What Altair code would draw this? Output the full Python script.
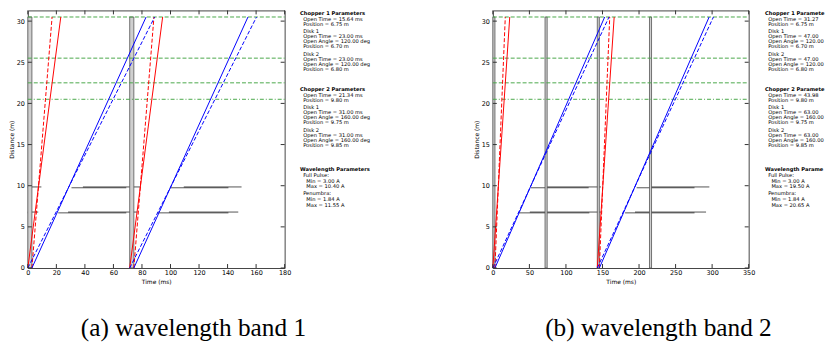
import altair as alt
import pandas as pd

# ---------------- data ----------------
x_ticks_a = [0, 20, 40, 60, 80, 100, 120, 140, 160, 180]
x_ticks_b = [0, 50, 100, 150, 200, 250, 300, 350]
y_ticks = [0, 5, 10, 15, 20, 25, 30]

# source pulses (ms)
pulse_start_a = [0.0, 71.4]
pulse_end_a = [2.86, 74.3]
pulse_start_b = [0.0, 71.4, 142.9, 214.3]
pulse_end_b = [2.86, 74.3, 145.7, 217.1]
pulse_top = 30.5

# monitor / detector distances (m)
green_dashed = [30.5, 25.5, 22.5]
green_dashdot = [20.5]

# neutron paths: (time at 0 m, time at line_top m)
line_top = 30.5
a_red_solid = [(0.0, 23.1), (71.4, 94.5)]
a_red_dashed = [(2.86, 17.0), (74.3, 88.4)]
a_blue_solid = [(2.86, 82.9), (74.3, 154.3)]
a_blue_dashed = [(0.0, 88.9), (71.4, 160.3)]
b_red_solid = [(0.0, 23.1), (142.9, 166.0)]
b_red_dashed = [(2.86, 17.0), (145.7, 159.9)]
b_blue_solid = [(2.86, 153.0), (145.7, 295.9)]
b_blue_dashed = [(0.0, 158.9), (142.9, 301.8)]

# chopper disk closed intervals (ms)
disk_pos = [6.70, 6.80, 9.75, 9.85]
a_disk_closed = [
    [(0.0, 1.6), (21.3, 69.0), (90.8, 140.6)],
    [(0.0, 7.3), (28.2, 76.8), (98.9, 147.5)],
    [(0.0, 1.6), (30.6, 69.0), (100.0, 140.6)],
    [(0.0, 9.5), (38.6, 79.1), (109.3, 149.8)],
]
b_disk_closed = [
    [(36.1, 132.0), (180.9, 275.9)],
    [(50.6, 147.9), (194.5, 291.7)],
    [(52.0, 131.1), (196.7, 275.9)],
    [(72.3, 147.9), (214.8, 296.2)],
]

text_a = [
    ["Chopper 1 Parameters", "Open Time = 15.64 ms", "Position = 6.75 m"],
    ["Disk 1", "Open Time = 23.00 ms", "Open Angle = 120.00 deg", "Position = 6.70 m"],
    ["Disk 2", "Open Time = 23.00 ms", "Open Angle = 120.00 deg", "Position = 6.80 m"],
    ["Chopper 2 Parameters", "Open Time = 21.34 ms", "Position = 9.80 m"],
    ["Disk 1", "Open Time = 31.00 ms", "Open Angle = 160.00 deg", "Position = 9.75 m"],
    ["Disk 2", "Open Time = 31.00 ms", "Open Angle = 160.00 deg", "Position = 9.85 m"],
    ["Wavelength Parameters", "Full Pulse:", "Min = 3.00 A", "Max = 10.40 A"],
    ["Penumbra:", "Min = 1.84 A", "Max = 11.55 A"],
]
text_b = [
    ["Chopper 1 Parameters", "Open Time = 31.27 ms", "Position = 6.75 m"],
    ["Disk 1", "Open Time = 47.00 ms", "Open Angle = 120.00 deg", "Position = 6.70 m"],
    ["Disk 2", "Open Time = 47.00 ms", "Open Angle = 120.00 deg", "Position = 6.80 m"],
    ["Chopper 2 Parameters", "Open Time = 43.98 ms", "Position = 9.80 m"],
    ["Disk 1", "Open Time = 63.00 ms", "Open Angle = 160.00 deg", "Position = 9.75 m"],
    ["Disk 2", "Open Time = 63.00 ms", "Open Angle = 160.00 deg", "Position = 9.85 m"],
    ["Wavelength Parameters", "Full Pulse:", "Min = 3.00 A", "Max = 19.50 A"],
    ["Penumbra:", "Min = 1.84 A", "Max = 20.65 A"],
]
captions = ["(a) wavelength band 1", "(b) wavelength band 2"]

# ---------------- layout ----------------
W_A, W_B, H = 259, 258, 259.8
Y_MAX = 31.3
GREEN = "#4aa84a"
TXT_X = 274.5
FONT = "DejaVu Sans"


def text_rows(groups):
    rows = []
    y = None
    sec = -1
    section_gaps = [20.7, 24.4]
    for gi, g in enumerate(groups):
        is_header = g[0].endswith("Parameters")
        if is_header:
            sec += 1
        step = 5.8 if sec == 2 else 5.0
        if y is None:
            y = 0.0
        elif is_header:
            y += section_gaps[sec - 1]
        else:
            y += 7.0 if sec == 2 else 7.5
        for li, line in enumerate(g):
            if li > 0:
                y += 6.0 if (li == 1 and is_header) else step
            if li == 0 and is_header:
                indent = 0
            elif line.startswith(("Min", "Max")):
                indent = 2
            else:
                indent = 1
            rows.append({"text": line, "py": y + 2.7, "indent": indent,
                         "bold": bool(li == 0 and is_header)})
    return pd.DataFrame(rows)


def panel(xmax, width, xticks, p_start, p_end, lines, disks, groups, caption, limit):
    xs = alt.Scale(domain=[0, xmax], nice=False, zero=False)
    ys = alt.Scale(domain=[0, Y_MAX], nice=False, zero=False)
    xax = alt.Axis(values=xticks, title="Time (ms)", labelPadding=2, titlePadding=2)
    yax = alt.Axis(values=y_ticks, title="Distance (m)", labelPadding=3.5, titlePadding=1.5)

    def X(f):
        return alt.X(f, type="quantitative", scale=xs, axis=xax)

    def Y(f):
        return alt.Y(f, type="quantitative", scale=ys, axis=yax)

    layers = []
    # disks
    drows = []
    for pos, segs in zip(disk_pos, disks):
        for t0, t1 in segs:
            drows.append({"t0": t0, "t1": t1, "d": pos})
    layers.append(alt.Chart(pd.DataFrame(drows)).mark_rule(
        color="#000000", opacity=0.68, strokeWidth=1).encode(x=X("t0"), x2="t1", y=Y("d")))
    # pulses
    pdf = pd.DataFrame({"t0": p_start, "t1": p_end, "d0": 0.0, "d1": pulse_top})
    layers.append(alt.Chart(pdf).mark_rect(fill="#cfcfcf", stroke="#555555", strokeWidth=0.8).encode(
        x=X("t0"), x2="t1", y=Y("d0"), y2="d1"))
    # green lines
    layers.append(alt.Chart(pd.DataFrame({"d": green_dashed})).mark_rule(
        color=GREEN, strokeWidth=1, strokeDash=[4, 2]).encode(
        y=Y("d"), x=alt.value(0), x2=alt.value(width)))
    layers.append(alt.Chart(pd.DataFrame({"d": green_dashdot})).mark_rule(
        color=GREEN, strokeWidth=1, strokeDash=[4, 2, 1, 2]).encode(
        y=Y("d"), x=alt.value(0), x2=alt.value(width)))
    # neutron paths
    for segs, color, dash in lines:
        ldf = pd.DataFrame({"t0": [s[0] for s in segs], "t1": [s[1] for s in segs],
                            "d0": 0.0, "d1": line_top})
        kw = dict(color=color, strokeWidth=1)
        if dash:
            kw["strokeDash"] = [4, 2]
        layers.append(alt.Chart(ldf).mark_rule(**kw).encode(
            x=X("t0"), x2="t1", y=Y("d0"), y2="d1"))
    # inward ticks
    xt = pd.DataFrame({"v": xticks})
    yt = pd.DataFrame({"v": y_ticks})
    tk = dict(color="#333333", strokeWidth=1)
    layers.append(alt.Chart(xt).mark_rule(**tk).encode(x=X("v"), y=alt.value(H), y2=alt.value(H - 4)))
    layers.append(alt.Chart(xt).mark_rule(**tk).encode(x=X("v"), y=alt.value(0), y2=alt.value(4)))
    layers.append(alt.Chart(yt).mark_rule(**tk).encode(y=Y("v"), x=alt.value(0), x2=alt.value(4)))
    layers.append(alt.Chart(yt).mark_rule(**tk).encode(y=Y("v"), x=alt.value(width), x2=alt.value(width - 4)))
    # parameter text
    tdf = text_rows(groups)
    for ind in [0, 1, 2]:
        sub = tdf[tdf["indent"] == ind]
        if len(sub) == 0:
            continue
        mk = dict(align="left", baseline="middle", font=FONT, fontSize=5.2,
                  fontWeight="bold" if ind == 0 else "normal", color="black")
        if limit is not None:
            mk["limit"] = limit - 3.2 * ind
            mk["ellipsis"] = " "
        layers.append(alt.Chart(sub).mark_text(**mk).encode(
            x=alt.value(TXT_X + 3.2 * ind),
            y=alt.Y("py:Q", scale=None, axis=None),
            text="text:N"))
    # caption
    layers.append(alt.Chart(pd.DataFrame({"c": [caption]})).mark_text(
        align="center", baseline="alphabetic", font="Liberation Serif", fontSize=25.5,
        color="black").encode(x=alt.value(167), y=alt.value(328), text="c:N"))
    return alt.layer(*layers).properties(width=width, height=H)


pa = panel(180, W_A, x_ticks_a, pulse_start_a, pulse_end_a,
           [(a_red_solid, "#ff0000", False), (a_red_dashed, "#ff0000", True),
            (a_blue_solid, "#0000ff", False), (a_blue_dashed, "#0000ff", True)],
           a_disk_closed, text_a, captions[0], None)
pb = panel(350, W_B, x_ticks_b, pulse_start_b, pulse_end_b,
           [(b_red_solid, "#ff0000", False), (b_red_dashed, "#ff0000", True),
            (b_blue_solid, "#0000ff", False), (b_blue_dashed, "#0000ff", True)],
           b_disk_closed, text_b, captions[1], 62)

chart = alt.hconcat(pa, pb, spacing=210, bounds="flush").properties(
    padding={"left": 0, "top": 0, "right": 0, "bottom": 0}
).configure_view(stroke="#444444", strokeWidth=1).configure_axis(
    grid=False, ticks=False, tickSize=0, domain=False,
    labelFont=FONT, labelFontSize=6.5, labelColor="black",
    titleFont=FONT, titleFontSize=6, titleFontWeight="normal", titleColor="black",
    labelFlush=False, labelOverlap=False,
)

chart.save("out.html", embed_options={"renderer": "svg", "actions": False})
